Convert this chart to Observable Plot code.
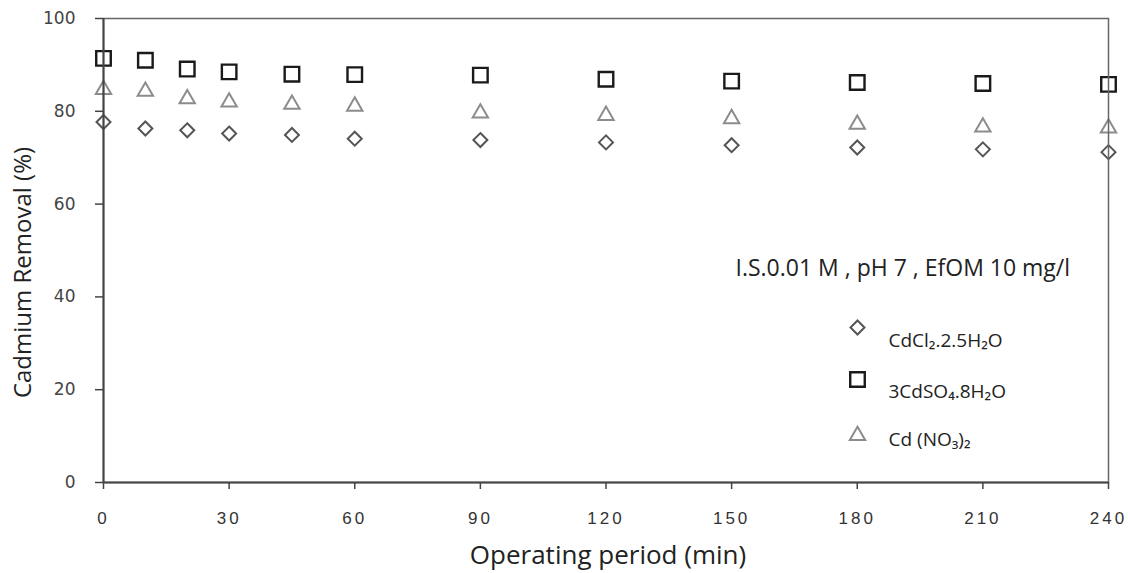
<!DOCTYPE html>
<html>
<head>
<meta charset="utf-8">
<script src="https://cdn.jsdelivr.net/npm/d3@7"></script>
<script src="https://cdn.jsdelivr.net/npm/@observablehq/plot@0.6"></script>
<style>
  html, body { margin: 0; padding: 0; background: #fff; }
  #chart { width: 1130px; height: 573px; }
  svg { font-family: "Open Sans", sans-serif; }
  g[aria-label="y-axis tick label"] text { font-family: "DejaVu Sans", sans-serif; font-size: 17px; fill: #444; }
  g[aria-label="x-axis tick label"] text { font-family: "Liberation Sans", sans-serif; font-size: 17px; fill: #333; letter-spacing: 3px; }
</style>
</head>
<body>
<div id="chart"></div>
<script>
// ---- data ----
const times = [0, 10, 20, 30, 45, 60, 90, 120, 150, 180, 210, 240];
const cdcl2 = [77.7, 76.3, 75.9, 75.2, 74.9, 74.1, 73.8, 73.3, 72.7, 72.2, 71.8, 71.2];
const cdso4 = [91.4, 91.0, 89.1, 88.5, 88.0, 87.9, 87.8, 86.9, 86.5, 86.2, 86.0, 85.8];
const cdno3 = [84.7, 84.3, 82.7, 82.0, 81.5, 81.1, 79.6, 79.1, 78.4, 77.2, 76.6, 76.4];
const seriesNames = ["CdCl₂.2.5H₂O", "3CdSO₄.8H₂O", "Cd (NO₃)₂"];
const xTicks = [0, 30, 60, 90, 120, 150, 180, 210, 240];
const yTicks = [0, 20, 40, 60, 80, 100];
const xTitle = "Operating period (min)";
const yTitle = "Cadmium Removal (%)";
const conditionText = "I.S.0.01 M , pH 7 , EfOM 10 mg/l";

// ---- styles ----
const styles = [
  {symbol: "diamond2", stroke: "#555", r: 6.3, sw: 2},
  {symbol: "square", stroke: "#1a1a1a", r: 8.2, sw: 2.4},
  {symbol: "triangle", stroke: "#8c8c8c", r: 5.7, sw: 2}
];
const seriesValues = [cdcl2, cdso4, cdno3];

const rows = [];
seriesValues.forEach((vals, s) => vals.forEach((v, i) => rows.push({t: times[i], v, s})));

const marks = [];
styles.forEach((st, s) => {
  marks.push(Plot.dot(rows.filter(d => d.s === s), {
    x: "t", y: "v", symbol: () => st.symbol, r: st.r,
    stroke: st.stroke, strokeWidth: st.sw, fill: "none"
  }));
});

// frame (top & right borders)
marks.push(Plot.frame({stroke: "#666", strokeWidth: 1.5}));

// axes
marks.push(Plot.axisY(yTicks, {
  ticks: yTicks, tickSize: 8, tickPadding: 20, stroke: "#444", strokeWidth: 1.5, label: null
}));
marks.push(Plot.axisX(xTicks, {
  ticks: xTicks, tickSize: 7, tickPadding: 22, stroke: "#444", strokeWidth: 1.5, label: null
}));
marks.push(Plot.ruleX([0], {stroke: "#444", strokeWidth: 2}));
marks.push(Plot.ruleY([0], {stroke: "#444", strokeWidth: 2}));

// axis titles
marks.push(Plot.text([xTitle], {
  frameAnchor: "bottom", dx: 2, dy: 73, text: d => d, textAnchor: "middle", lineAnchor: "middle",
  fontSize: 26, fill: "#222"
}));
marks.push(Plot.text([yTitle], {
  frameAnchor: "left", dx: -80, dy: 22, rotate: -90, text: d => d, textAnchor: "middle", lineAnchor: "middle",
  fontSize: 24, fill: "#222"
}));

// legend (inside the frame)
marks.push(Plot.text([conditionText], {
  frameAnchor: "top-left", dx: 632, dy: 250, text: d => d, textAnchor: "start", lineAnchor: "middle",
  fontSize: 23, fill: "#222"
}));
const legendSymDy = [309, 361, 417];
const legendTextDy = [322, 373, 421];
styles.forEach((st, s) => {
  marks.push(Plot.dot([seriesNames[s]], {
    frameAnchor: "top-left", dx: 754, dy: legendSymDy[s], symbol: () => st.symbol, r: st.r,
    stroke: st.stroke, strokeWidth: st.sw, fill: "none"
  }));
  marks.push(Plot.text([seriesNames[s]], {
    frameAnchor: "top-left", dx: 785, dy: legendTextDy[s], text: d => d, textAnchor: "start", lineAnchor: "middle",
    fontSize: 19, fill: "#222"
  }));
});

const chart = Plot.plot({
  width: 1130, height: 573,
  marginLeft: 103, marginRight: 22, marginTop: 18, marginBottom: 91,
  x: {domain: [0, 240]},
  y: {domain: [0, 100]},
  style: {background: "#fff", overflow: "visible"},
  marks
});
document.getElementById("chart").appendChild(chart);
</script>
</body>
</html>
